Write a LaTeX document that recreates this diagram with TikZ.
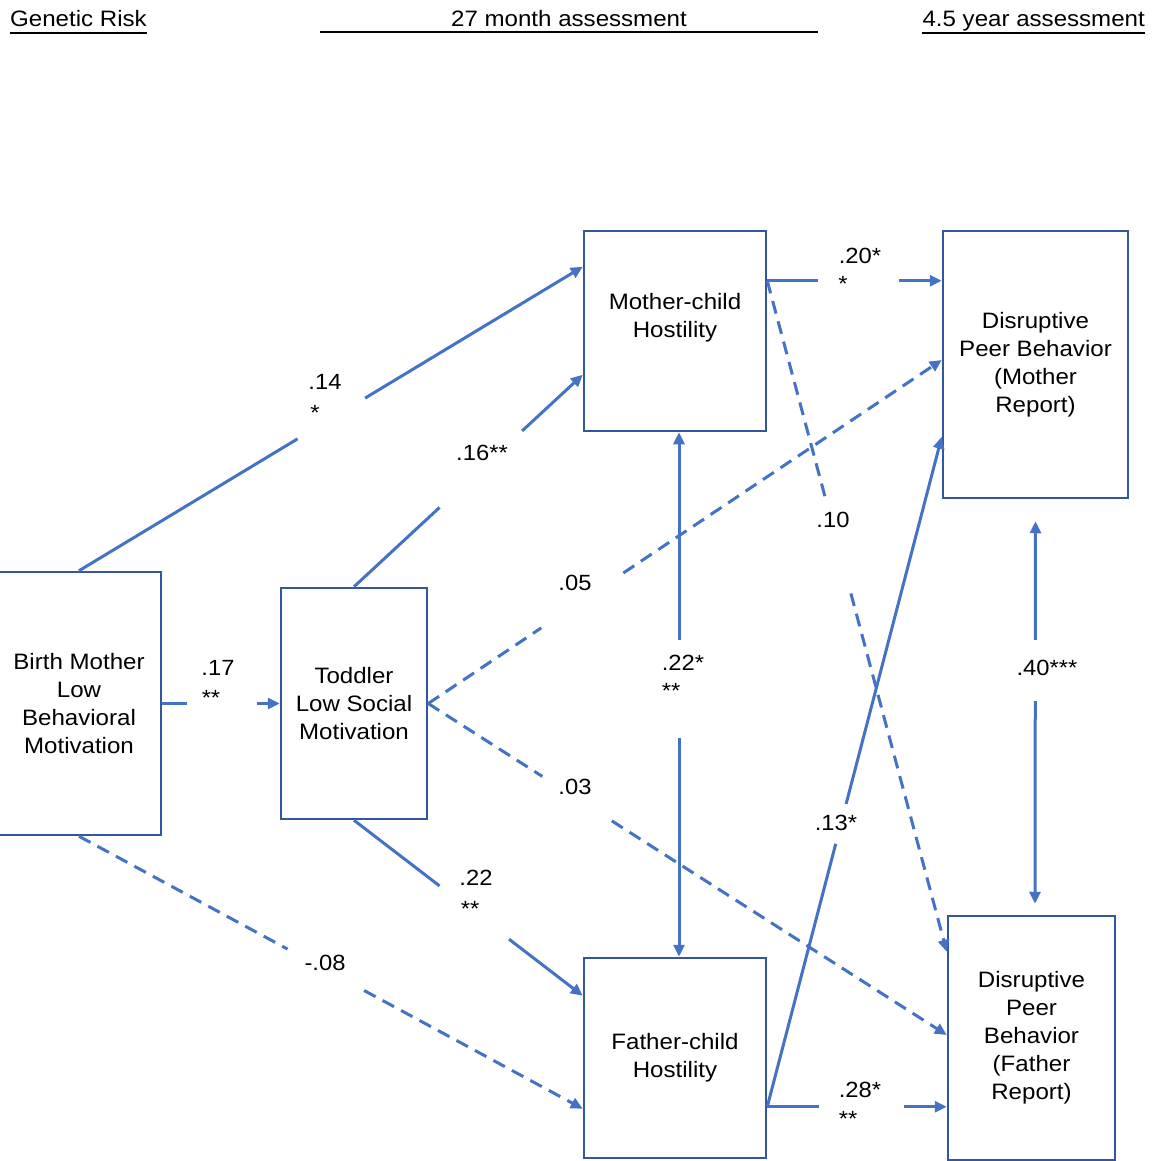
\documentclass[tikz,border=0pt]{standalone}
\usepackage{fontspec}
\setmainfont{Liberation Sans}[FakeStretch=1.08]
\usetikzlibrary{arrows.meta}
\definecolor{linkblue}{RGB}{68,114,196}
\definecolor{boxblue}{RGB}{50,86,160}
\begin{document}
\begin{tikzpicture}[x=1pt,y=-1pt,
  box/.style={draw=boxblue, line width=2.5pt, rectangle, inner sep=2pt, align=center,
    font=\fontsize{22.3}{28}\selectfont, text=black},
  link/.style={draw=linkblue, line width=3pt},
  dlink/.style={link, dash pattern=on 13pt off 8pt},
  tip/.style={-{Triangle[length=12pt,width=11pt]}},
  coef/.style={font=\fontsize{22}{26}\selectfont, inner sep=0pt, text=black},
  stars/.style={coef, anchor=base},
  hdr/.style={font=\fontsize{22.3}{26}\selectfont, inner sep=0pt, text=black},
  rule/.style={draw=black, line width=2pt}
]
\useasboundingbox (0,0) rectangle (1163,1161);

% ---------- column headings ----------
\node[hdr, anchor=base west] (gr) at (10,27) {Genetic Risk};
\draw[rule] ([yshift=-6pt]gr.base west) -- ([yshift=-6pt]gr.base east);
\node[hdr, anchor=base] (tm) at (569,27) {27 month assessment};
\coordinate (tmL) at (320,32);
\coordinate (tmR) at (818,32);
\draw[rule] (tmL) -- (tmR);
\node[hdr, anchor=base east] (fy) at (1145,27) {4.5 year assessment};
\draw[rule] ([yshift=-6pt]fy.base west) -- ([yshift=-6pt]fy.base east);

% ---------- variables ----------
\node[box, minimum width=164pt, minimum height=263pt] (bm) at (79,703.5)
  {Birth Mother\\Low\\Behavioral\\Motivation};
\node[box, minimum width=146pt, minimum height=231pt] (td) at (354,703.5)
  {Toddler\\Low Social\\Motivation};
\node[box, minimum width=182pt, minimum height=200pt, text depth=31pt] (mc) at (675,331)
  {Mother-child\\Hostility};
\node[box, minimum width=182pt, minimum height=200pt] (fc) at (675,1058)
  {Father-child\\Hostility};
\node[box, minimum width=185pt, minimum height=267pt] (dm) at (1035.5,364.5)
  {Disruptive\\Peer Behavior\\(Mother\\Report)};
\node[box, minimum width=167pt, minimum height=244pt] (df) at (1031.5,1038)
  {Disruptive\\Peer\\Behavior\\(Father\\Report)};

% ---------- paths (each broken where its coefficient sits) ----------
% birth mother -> mother-child hostility
\path (bm.north) -- coordinate[pos=0.434] (a1) coordinate[pos=0.568] (b1) ([yshift=-37pt]mc.north west);
\draw[link] (bm.north) -- (a1);
\draw[link,tip] (b1) -- ([yshift=-37pt]mc.north west);

% toddler -> mother-child hostility
\path (td.north) -- coordinate[pos=0.374] (a2) coordinate[pos=0.735] (b2) ([yshift=-145pt]mc.north west);
\draw[link] (td.north) -- (a2);
\draw[link,tip] (b2) -- ([yshift=-145pt]mc.north west);

% birth mother -> toddler
\path (bm.east) -- coordinate[pos=0.21] (a3) coordinate[pos=0.81] (b3) (td.west);
\draw[link] (bm.east) -- (a3);
\draw[link,tip] (b3) -- (td.west);

% toddler -> peer behaviour (mother report)
\path (td.east) -- coordinate[pos=0.22] (a4) coordinate[pos=0.38] (b4) ([yshift=4.5pt]dm.west);
\draw[dlink] (td.east) -- (a4);
\draw[dlink,tip] (b4) -- ([yshift=4.5pt]dm.west);

% toddler -> peer behaviour (father report)
\path (td.east) -- coordinate[pos=0.22] (a5) coordinate[pos=0.354] (b5) ([yshift=3pt]df.west);
\draw[dlink] (td.east) -- (a5);
\draw[dlink,tip] (b5) -- ([yshift=3pt]df.west);

% toddler -> father-child hostility
\path (td.south) -- coordinate[pos=0.374] (a6) coordinate[pos=0.678] (b6) ([yshift=-39pt]fc.north west);
\draw[link] (td.south) -- (a6);
\draw[link,tip] (b6) -- ([yshift=-39pt]fc.north west);

% birth mother -> father-child hostility
\path (bm.south) -- coordinate[pos=0.414] (a7) coordinate[pos=0.566] (b7) ([yshift=-152pt]fc.north west);
\draw[dlink] (bm.south) -- (a7);
\draw[dlink,tip] (b7) -- ([yshift=-152pt]fc.north west);

% mother-child hostility -> peer behaviour (mother report)
\path ([yshift=-51pt]mc.north east) -- coordinate[pos=0.29] (a8) coordinate[pos=0.757] (b8) ([yshift=-51pt]dm.north west);
\draw[link] ([yshift=-51pt]mc.north east) -- (a8);
\draw[link,tip] (b8) -- ([yshift=-51pt]dm.north west);

% father-child hostility -> peer behaviour (father report)
\path ([yshift=-150pt]fc.north east) -- coordinate[pos=0.286] (a9) coordinate[pos=0.764] (b9) ([yshift=-192pt]df.north west);
\draw[link] ([yshift=-150pt]fc.north east) -- (a9);
\draw[link,tip] (b9) -- ([yshift=-192pt]df.north west);

% mother-child <-> father-child hostility
\path ([xshift=4pt]mc.south) -- coordinate[pos=0.397] (a10) coordinate[pos=0.583] (b10) ([xshift=4pt]fc.north);
\draw[link,{Triangle[length=12pt,width=11pt]}-] ([xshift=4pt]mc.south) -- (a10);
\draw[link,tip] (b10) -- ([xshift=4pt]fc.north);

% peer behaviour: mother report <-> father report
\path ([yshift=-22pt]dm.south) -- coordinate[pos=0.31] (a11) coordinate[pos=0.47] (b11) ([yshift=11pt,xshift=3.5pt]df.north);
\draw[link,{Triangle[length=12pt,width=11pt]}-] ([yshift=-22pt]dm.south) -- (a11);
\draw[link,tip] (b11) -- ([yshift=11pt,xshift=3.5pt]df.north);

% mother-child hostility -> peer behaviour (father report)
\path ([yshift=-51pt]mc.north east) -- coordinate[pos=0.325] (a12) coordinate[pos=0.466] (b12) ([yshift=-37pt]df.north west);
\draw[dlink] ([yshift=-51pt]mc.north east) -- (a12);
\draw[dlink,tip] (b12) -- ([yshift=-37pt]df.north west);

% father-child hostility -> peer behaviour (mother report)
\path ([yshift=-150pt]fc.north east) -- coordinate[pos=0.3925] (a13) coordinate[pos=0.452] (b13) ([yshift=-207pt]dm.north west);
\draw[link] ([yshift=-150pt]fc.north east) -- (a13);
\draw[link,tip] (b13) -- ([yshift=-207pt]dm.north west);

% ---------- path coefficients ----------
\node[coef] (c1) at (325,382) {.14};
\node[stars] (c1s) at (315,420) {*};
\node[coef] (c2) at (482,453) {.16**};
\node[coef] (c3) at (218,668) {.17};
\node[stars] (c3s) at (211,705) {**};
\node[coef] (c4) at (575,583) {.05};
\node[coef] (c5) at (575,787) {.03};
\node[coef] (c6) at (476,878) {.22};
\node[stars] (c6s) at (470,916) {**};
\node[coef] (c7) at (325,963) {-.08};
\node[coef] (c8) at (860,256) {.20*};
\node[stars] (c8s) at (843,292) {*};
\node[coef] (c9) at (860,1090) {.28*};
\node[stars] (c9s) at (848,1126) {**};
\node[coef] (c10) at (683,663) {.22*};
\node[stars] (c10s) at (671,698) {**};
\node[coef] (c11) at (1047,668) {.40***};
\node[coef] (c12) at (833,520) {.10};
\node[coef] (c13) at (836,823) {.13*};
\end{tikzpicture}
\end{document}
